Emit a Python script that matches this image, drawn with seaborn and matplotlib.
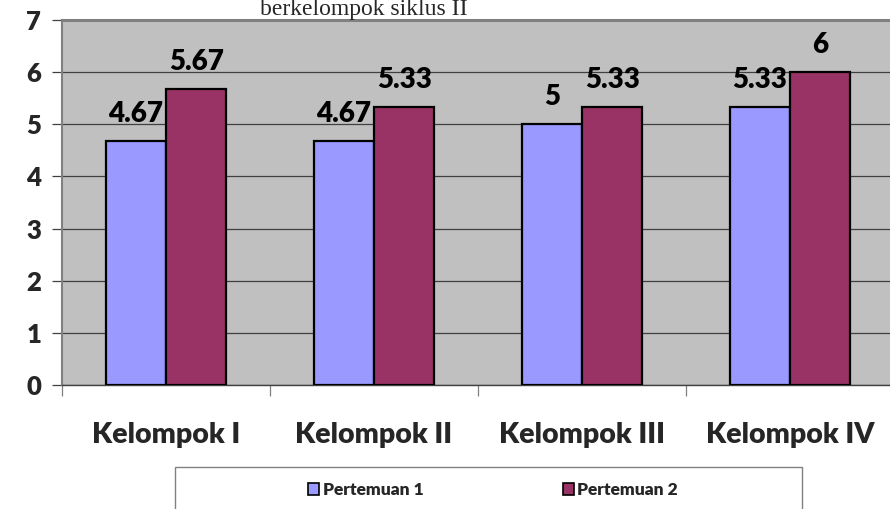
import matplotlib
matplotlib.use("Agg")
import matplotlib.pyplot as plt
import seaborn as sns
import pandas as pd
from matplotlib.patches import Patch, Rectangle

categories = ["Kelompok I", "Kelompok II", "Kelompok III", "Kelompok IV"]
series_names = ["Pertemuan 1", "Pertemuan 2"]
pertemuan1 = [4.67, 4.67, 5, 5.33]
pertemuan2 = [5.67, 5.33, 5.33, 6]
colors = ["#9999FF", "#993366"]
y_ticks = [0, 1, 2, 3, 4, 5, 6, 7]
title_text = "berkelompok siklus II"

df = pd.DataFrame({
    "kelompok": categories * 2,
    "pertemuan": [series_names[0]] * 4 + [series_names[1]] * 4,
    "nilai": pertemuan1 + pertemuan2,
})

sns.set_style("white")
plt.rcParams["font.family"] = ["Lato", "DejaVu Sans"]

W, H = 890, 509
fig = plt.figure(figsize=(W / 100, H / 100), dpi=100)
ax = fig.add_axes([62 / W, (H - 385) / H, (894 - 62) / W, (385 - 20) / H])
ax.set_facecolor("#C0C0C0")

sns.barplot(data=df, x="kelompok", y="nilai", hue="pertemuan", palette=colors,
            saturation=1, width=0.58, edgecolor="black", linewidth=1.6, ax=ax,
            legend=False, zorder=3)

vals = [pertemuan1, pertemuan2]
for cont, vv in zip(ax.containers, vals):
    for p, v in zip(cont.patches, vv):
        ax.annotate(f"{v:g}", (p.get_x() + p.get_width() / 2, p.get_height()),
                    xytext=(0, 14), textcoords="offset points", ha="center",
                    va="baseline", fontsize=20, fontweight="heavy", color="black",
                    zorder=5)

ax.set_ylim(0, 7)
ax.set_xlim(-0.5, 3.5)
ax.set_yticks(y_ticks)
ax.yaxis.grid(True, color="#404040", linewidth=0.9, zorder=0)
ax.set_axisbelow(True)
ax.set_xlabel("")
ax.set_ylabel("")

ax.tick_params(axis="y", which="major", length=7, width=0.9, color="#404040",
               pad=8, labelsize=18.5, left=True)
for lab in ax.get_yticklabels():
    lab.set_fontweight("heavy")
ax.set_xticks(range(len(categories)))
ax.set_xticklabels(categories, fontsize=20.5, fontweight="heavy")
ax.tick_params(axis="x", which="major", length=0, pad=27)
ax.set_xticks([-0.5, 0.5, 1.5, 2.5, 3.5], minor=True)
ax.tick_params(axis="x", which="minor", length=8, width=0.9, color="#808080",
               bottom=True)

for s in ["top", "left", "bottom", "right"]:
    ax.spines[s].set_visible(True)
ax.spines["top"].set_color("#808080")
ax.spines["top"].set_linewidth(2.2)
ax.spines["left"].set_color("#808080")
ax.spines["left"].set_linewidth(1.5)
ax.spines["bottom"].set_color("#404040")
ax.spines["bottom"].set_linewidth(1.0)
ax.spines["right"].set_visible(False)

# legend box
fig.patches.append(Rectangle((175 / W, -10 / H), (802 - 175) / W, (509 - 467 + 10) / H,
                             transform=fig.transFigure, facecolor="white",
                             edgecolor="#808080", linewidth=1.0, zorder=1))
handles = [Patch(facecolor=c, edgecolor="black", linewidth=1.2) for c in colors]
fig.legend(handles, series_names, loc="center", bbox_to_anchor=(493 / W, 1 - 490 / H),
           ncol=2, frameon=False, prop={"size": 12.5, "weight": "heavy"},
           handlelength=0.65, handleheight=0.65, handletextpad=0.2,
           columnspacing=8.0)

fig.text(364 / W, 1 - 15 / H, title_text, ha="center", va="baseline",
         fontsize=17, family=["Liberation Serif", "DejaVu Serif"])

fig.savefig("out.png", dpi=100)
